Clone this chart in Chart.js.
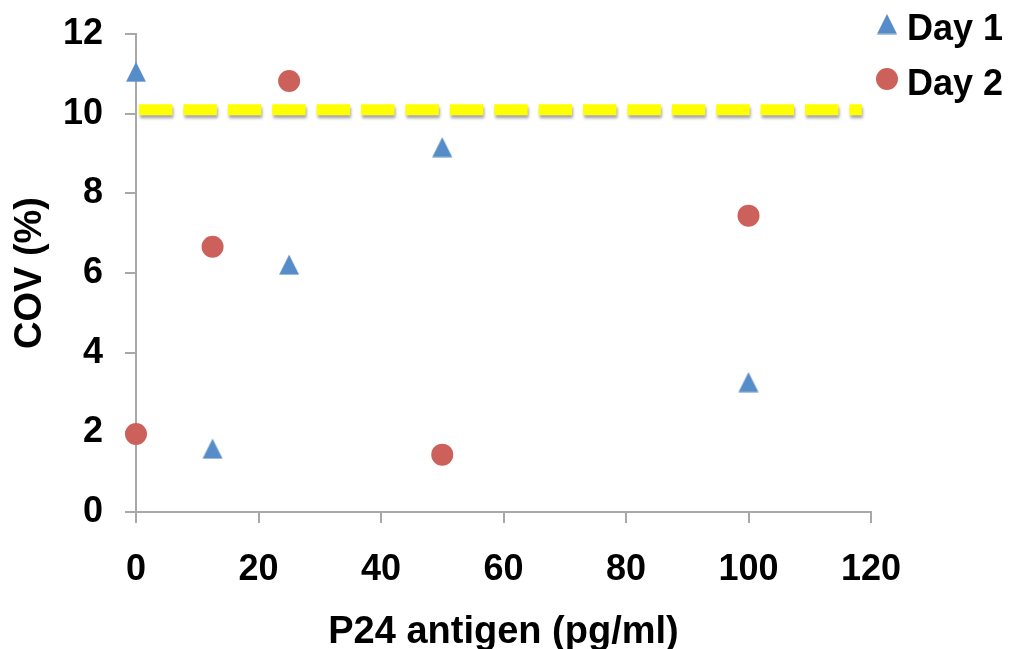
<!DOCTYPE html>
<html>
<head>
<meta charset="utf-8">
<script src="https://cdn.jsdelivr.net/npm/chart.js@4/dist/chart.umd.min.js"></script>
<style>
  html, body { margin: 0; padding: 0; background: #ffffff; }
  #wrap { position: relative; width: 1013px; height: 649px; }
</style>
</head>
<body>
<div id="wrap"><canvas id="chart"></canvas></div>
<script>
// P24 antigen concentrations (pg/ml)
const antigenLevels = [0, 12.5, 25, 50, 100];
// Coefficient of variation (%) per day
const day1Cov = [11.05, 1.59, 6.21, 9.16, 3.26];
const day2Cov = [1.96, 6.66, 10.82, 1.44, 7.44];
// Acceptance limit drawn as a dashed reference line
const limitCov = 10.1;
const limitSpan = [0.5, 118.5];
// Axis ticks
const xTicks = [0, 20, 40, 60, 80, 100, 120];
const yTicks = [0, 2, 4, 6, 8, 10, 12];
const seriesNames = ['Day 1', 'Day 2'];

const BLUE = '#568CC8';
const RED = '#CC605A';
const YELLOW = '#FFFF00';
const AXIS = '#A8A8A8';
const FONT = "'Liberation Sans', Arial, sans-serif";

// Triangle marker centred on its bounding box
function triangleMarker(color) {
  const c = document.createElement('canvas');
  c.width = 22; c.height = 21;
  const g = c.getContext('2d');
  g.fillStyle = color;
  g.beginPath();
  g.moveTo(1, 20.5);
  g.lineTo(21, 20.5);
  g.lineTo(11, 0.5);
  g.closePath();
  g.fill();
  return c;
}
const triangle = triangleMarker(BLUE);

const toPoints = (ys) => antigenLevels.map((x, i) => ({ x, y: ys[i] }));

// Soft drop shadow under the reference line
const lineShadow = {
  id: 'lineShadow',
  beforeDatasetDraw(chart, args) {
    if (chart.data.datasets[args.index].isLimit) {
      const ctx = chart.ctx;
      ctx.save();
      ctx.shadowColor = 'rgba(0,0,0,0.35)';
      ctx.shadowBlur = 3;
      ctx.shadowOffsetX = 1;
      ctx.shadowOffsetY = 3;
    }
  },
  afterDatasetDraw(chart, args) {
    if (chart.data.datasets[args.index].isLimit) chart.ctx.restore();
  }
};

// Series key in the top right corner
const seriesKey = {
  id: 'seriesKey',
  afterDraw(chart) {
    const ctx = chart.ctx;
    const left = chart.chartArea.right + 16;
    const rows = [24, 79];
    ctx.save();
    ctx.font = 'bold 36px ' + FONT;
    ctx.textBaseline = 'alphabetic';
    ctx.textAlign = 'left';
    chart.data.datasets.filter(d => !d.isLimit).forEach((ds, i) => {
      const y = rows[i];
      if (ds.pointStyle instanceof HTMLCanvasElement) {
        ctx.drawImage(ds.pointStyle, left - ds.pointStyle.width / 2, y - ds.pointStyle.height / 2);
      } else {
        ctx.fillStyle = ds.backgroundColor;
        ctx.beginPath();
        ctx.arc(left, y, ds.pointRadius, 0, Math.PI * 2);
        ctx.fill();
      }
      ctx.fillStyle = '#000000';
      ctx.fillText(ds.label, left + 20, y + 16);
    });
    ctx.restore();
  }
};

new Chart(document.getElementById('chart'), {
  type: 'scatter',
  data: {
    datasets: [
      {
        label: 'limit',
        isLimit: true,
        type: 'line',
        data: limitSpan.map(x => ({ x, y: limitCov })),
        borderColor: YELLOW,
        borderWidth: 11,
        borderDash: [33.4, 11],
        borderCapStyle: 'butt',
        pointRadius: 0,
        fill: false,
        clip: false
      },
      {
        label: seriesNames[0],
        data: toPoints(day1Cov),
        pointStyle: triangle,
        backgroundColor: BLUE,
        pointRadius: 11,
        pointBorderWidth: 0,
        clip: false
      },
      {
        label: seriesNames[1],
        data: toPoints(day2Cov),
        pointStyle: 'circle',
        backgroundColor: RED,
        borderColor: RED,
        pointRadius: 11,
        pointBorderWidth: 0,
        clip: false
      }
    ]
  },
  options: {
    responsive: true,
    maintainAspectRatio: false,
    animation: false,
    events: [],
    layout: { padding: { top: 34, right: 142, bottom: 0, left: 0 } },
    plugins: {
      legend: { display: false },
      tooltip: { enabled: false }
    },
    scales: {
      x: {
        type: 'linear',
        min: xTicks[0],
        max: xTicks[xTicks.length - 1],
        afterBuildTicks(scale) { scale.ticks = xTicks.map(v => ({ value: v })); },
        afterFit(scale) {
          scale.height = 137;
          scale.paddingLeft = 0;
          scale.paddingRight = 0;
        },
        ticks: {
          color: '#000000',
          font: { family: FONT, size: 36, weight: 'bold' },
          padding: 25,
          maxRotation: 0
        },
        grid: {
          display: true,
          drawOnChartArea: false,
          drawTicks: true,
          tickLength: 11,
          color: AXIS,
          lineWidth: 2
        },
        border: { display: true, color: AXIS, width: 2 },
        title: {
          display: true,
          text: 'P24 antigen (pg/ml)',
          color: '#000000',
          font: { family: FONT, size: 38, weight: 'bold', lineHeight: 1 },
          padding: { top: 0, bottom: -3 }
        }
      },
      y: {
        type: 'linear',
        min: yTicks[0],
        max: yTicks[yTicks.length - 1],
        afterBuildTicks(scale) { scale.ticks = yTicks.map(v => ({ value: v })); },
        afterFit(scale) {
          scale.width = 136;
          scale.paddingTop = 0;
          scale.paddingBottom = 0;
        },
        ticks: {
          color: '#000000',
          font: { family: FONT, size: 36, weight: 'bold' },
          padding: 22
        },
        grid: {
          display: true,
          drawOnChartArea: false,
          drawTicks: true,
          tickLength: 11,
          color: AXIS,
          lineWidth: 2
        },
        border: { display: true, color: AXIS, width: 2 },
        title: {
          display: true,
          text: 'COV (%)',
          color: '#000000',
          font: { family: FONT, size: 38, weight: 'bold', lineHeight: 1.2 },
          padding: { top: 8, bottom: 0 }
        }
      }
    }
  },
  plugins: [lineShadow, seriesKey]
});
</script>
</body>
</html>
